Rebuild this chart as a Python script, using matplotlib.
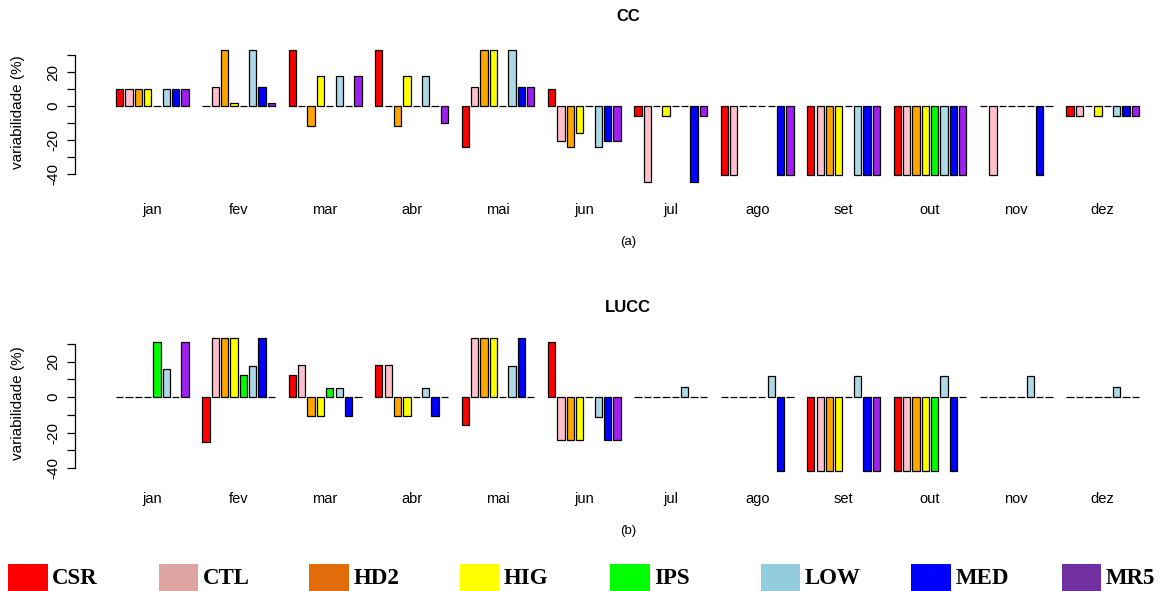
import numpy as np
import matplotlib
matplotlib.use('Agg')
import matplotlib.pyplot as plt
from matplotlib.patches import Rectangle

plt.rcParams['font.family'] = ['Liberation Sans', 'DejaVu Sans']

months = ['jan', 'fev', 'mar', 'abr', 'mai', 'jun', 'jul', 'ago', 'set', 'out', 'nov', 'dez']
models = ['CSR', 'CTL', 'HD2', 'HIG', 'IPS', 'LOW', 'MED', 'MR5']
bar_colors = ['#FF0000', '#FFC0CB', '#FFA500', '#FFFF00', '#00FF00', '#ADD8E6', '#0000FF', '#A020F0']
legend_colors = ['#FF0000', '#DDA4A2', '#E36C0A', '#FFFF00', '#00FF00', '#93CDDD', '#0000FF', '#7030A0']

# (a) CC - variabilidade (%) por modelo, jan..dez
cc_csr = [10, 0, 33, 33, -24, 10, -6, -41, -41, -41, 0, -6]
cc_ctl = [10, 11.4, 0, 0, 11.4, -21, -45, -41, -41, -41, -41, -6]
cc_hd2 = [10, 33, -11.6, -11.6, 33, -24, 0, 0, -41, -41, 0, 0]
cc_hig = [10, 1.6, 18, 18, 33, -16, -6, 0, -41, -41, 0, -6]
cc_ips = [0, 0, 0, 0, 0, 0, 0, 0, 0, -41, 0, 0]
cc_low = [10, 33, 18, 18, 33, -24, 0, 0, -41, -41, 0, -6]
cc_med = [10, 11.4, 0, 0, 11.4, -21, -45, -41, -41, -41, -41, -6]
cc_mr5 = [10, 1.6, 18, -10, 11.4, -21, -6, -41, -41, -41, 0, -6]

# (b) LUCC
lucc_csr = [0, -25.3, 12.3, 17.9, -15.5, 31, 0, 0, -41.6, -41.6, 0, 0]
lucc_ctl = [0, 33.4, 18.3, 18.3, 33.4, -24.2, 0, 0, -41.6, -41.6, 0, 0]
lucc_hd2 = [0, 33.4, -10.9, -10.9, 33.4, -24.2, 0, 0, -41.6, -41.6, 0, 0]
lucc_hig = [0, 33.4, -10.9, -10.9, 33.4, -24.2, 0, 0, -41.6, -41.6, 0, 0]
lucc_ips = [31, 12.3, 4.9, 0, 0, 0, 0, 0, 0, -41.6, 0, 0]
lucc_low = [16, 17.7, 4.9, 4.9, 17.7, -11.5, 5.5, 11.9, 11.9, 11.9, 11.9, 5.5]
lucc_med = [0, 33.4, -10.9, -10.9, 33.4, -24.2, 0, -41.6, -41.6, -41.6, 0, 0]
lucc_mr5 = [31, 0, 0, 0, 0, -24.2, 0, 0, -41.6, 0, 0, 0]

cc = [cc_csr, cc_ctl, cc_hd2, cc_hig, cc_ips, cc_low, cc_med, cc_mr5]
lucc = [lucc_csr, lucc_ctl, lucc_hd2, lucc_hig, lucc_ips, lucc_low, lucc_med, lucc_mr5]

W, H = 1161, 591
fig = plt.figure(figsize=(W / 100, H / 100), dpi=100)

group_step = 9.24
bar_w = 0.78
x0 = 119.65   # pixel of first bar centre
ustep = 9.35  # pixels per bar unit
ylo, yhi = -46, 36


def add_panel(zero_px, scale, data, title, tag, xpad, tag_off):
    top = zero_px - scale * yhi
    bottom = zero_px - scale * ylo
    left, right = 75, 1155
    ax = fig.add_axes([left / W, 1 - bottom / H, (right - left) / W, (bottom - top) / H])
    ax.set_xlim((left - x0) / ustep, (right - x0) / ustep)
    ax.set_ylim(ylo, yhi)
    for i, vals in enumerate(data):
        xs = np.arange(len(months)) * group_step + i
        ax.bar(xs, vals, width=bar_w, color=bar_colors[i], edgecolor='black', linewidth=0.9)
    for s in ['top', 'right', 'bottom']:
        ax.spines[s].set_visible(False)
    ax.spines['left'].set_bounds(-40, 30)
    ax.spines['left'].set_linewidth(0.9)
    yt = np.arange(-40, 31, 10)
    ax.set_yticks(yt)
    ax.set_yticklabels([str(v) if v % 20 == 0 else '' for v in yt])
    ax.tick_params(axis='y', length=5.5, width=0.9, pad=5, labelsize=11, labelrotation=90)
    for lab in ax.get_yticklabels():
        lab.set_va('center')
    ax.set_xticks(np.arange(len(months)) * group_step + 3.5)
    ax.set_xticklabels(months)
    ax.tick_params(axis='x', length=0, pad=xpad, labelsize=10.5)
    fig.text(18 / W, 1 - (zero_px + 6) / H, 'variabilidade (%)', rotation=90,
             ha='center', va='center', fontsize=11)
    fig.text(628 / W, 1 - (zero_px - 89.5) / H, title, ha='center', va='center',
             fontsize=12, fontweight='bold')
    fig.text(628 / W, 1 - (zero_px + tag_off) / H, tag, ha='center', va='center', fontsize=9.5)
    return ax


add_panel(106, 1.69, cc, 'CC', '(a)', 14, 136)
add_panel(397, 1.775, lucc, 'LUCC', '(b)', 9.5, 134)

# legend strip at the bottom
for k, (name, col) in enumerate(zip(models, legend_colors)):
    bx = 8.3 + k * 150.5
    fig.patches.append(Rectangle((bx / W, 0), 39.5 / W, 27 / H, transform=fig.transFigure,
                                 facecolor=col, edgecolor='none'))
    fig.text((bx + 44) / W, 1 - 578.5 / H, name, ha='left', va='center',
             fontsize=16.5, fontweight='bold', family=['Liberation Serif', 'DejaVu Serif'])

fig.savefig('out.png', dpi=100)
